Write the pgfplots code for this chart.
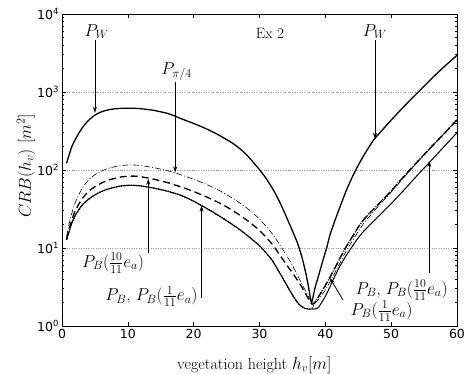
\documentclass[border=0pt]{standalone}
\usepackage{amsmath}
\usepackage{fontspec}
\usepackage{pgfplots}
\usepackage{pgfplotstable}
\pgfplotsset{compat=1.18}
\usetikzlibrary{calc,arrows.meta}
\newfontfamily\tickfont{DejaVu Sans}
\newcommand{\sx}[1]{\raisebox{4.5pt}{\fontsize{8.5}{8.5}\selectfont #1}}
\newcommand{\lbl}{\fontsize{17}{19}\selectfont}

\pgfplotstableread{
x y
0.7 122
1 148
1.5 200
2 245
3 340
4 430
5 505
6 557
7 590
8 608
9 617
10 620
11 618
12 610
14 580
16 532
17.2 490
18 458
20 395
22 335
24 275
26 218
27 188
28 158
29 127
30 101
31 78
32 57.5
33 40
34 26
35 16.6
35.7 12
36.2 9.0
36.6 6.8
37.1 4.5
37.5 3.0
37.9 2.0
38.4 3.0
39 4.5
39.6 6.8
40.2 10
40.7 14.7
41.5 23
42.3 35
43.2 55
44 78
45 115
46 162
47.3 240
48 282
50 436
52 660
54 977
56 1445
58 2090
60 2950
}\PW

\pgfplotstableread{
x y
0.7 12.7
1 15.5
1.5 21
2 26
3 35
4 42
5 48
6 53
7 57
8 60
9 62.5
10 63.5
11 63.5
12 62.5
14 58.5
16 53.5
18 47.5
20 39.8
21.2 35
22 32.1
24 25.4
26 19.7
27 17.2
28 14.8
30 10.7
31.4 7.9
32 6.8
33 4.9
34 3.5
35 2.5
36 1.9
37 1.67
38 1.64
38.5 1.66
39 1.75
40 2.4
41 3.6
42 5.4
43 7.6
44 10.2
45 13.5
46 17
48 25
50 37
52 56
54 86
56 130
58 198
60 300
}\PBone

\pgfplotstableread{
x y
0.7 13
1 16.5
1.5 23
2 30
3 42
4 53
5 61
6 68
7 74
8 78
9 81.5
10 83
11 83.5
12 82
13 79
14 76
16 69
18 61
20 53
22 45
24 37.5
26 30
28 23
30 16.8
32 11
33 8.3
34 6.3
35 4.8
35.4 4.3
36.2 3.4
37 2.6
37.6 2.1
38 1.9
38.4 2.0
39 2.4
40 3.3
41 4.7
42 6.8
43 9.8
44 13.5
45 18.5
46 24
48 36
50 54
52 84
54 128
56 194
58 290
60 440
}\PBten

\pgfplotstableread{
x y
0.7 14
1 19
1.5 28
2 38
3 57
4 74
5 87
6 97
7 105
8 110
9 114
10 116
11 116
12 114
14 107
16 98
17.2 92
18 87
20 76
22 65
24 54
26 43
28 33
30 23.5
32 15
33 11.2
34 8.3
35 6.0
36 4.1
37 2.8
37.8 2.1
38.3 1.95
39 2.2
40 2.9
41 4.1
42 5.9
43 8.6
44 11.9
45 16.3
46 21.5
48 34
50 52
52 81
54 126
56 192
58 290
60 440
}\Ppi

\pgfplotstableread{
x y
0.7 12.7
1 15.5
1.5 21
2 26
3 35
4 42
5 48
6 53
7 57
8 60
9 62.5
10 63.5
11 63.5
12 62.5
14 58.5
16 53.5
18 47.5
20 39.8
21.2 35
22 32.1
24 25.4
26 19.7
27 17.2
28 14.8
30 10.7
31.4 7.9
32 6.8
33 4.9
34 3.5
35 2.5
36 1.9
37 1.67
38 1.7
38.5 2.05
39 2.4
40 3.3
41 4.7
42 6.8
43 9.8
44 13.5
45 18.5
46 24
48 36
50 54
52 84
54 128
56 194
58 290
60 440
}\PB

\begin{document}
\begin{tikzpicture}
\begin{axis}[
  name=ax,
  scale only axis, width=395pt, height=312pt,
  xmin=0, xmax=60, ymin=1, ymax=10000, ymode=log,
  xtick={0,10,20,30,40,50,60},
  xticklabels={0,10,20,30,40,50,60},
  ytick={1,10,100,1000,10000},
  yticklabels={10\sx{0},10\sx{1},10\sx{2},10\sx{3},10\sx{4}},
  ticklabel style={font=\tickfont\fontsize{12.5}{12.5}\selectfont},
  tick align=inside, tick pos=both,
  major tick length=4pt, minor tick length=2pt,
  every tick/.style={black, line width=0.6pt},
  ymajorgrids, grid style={dotted, gray!80, line width=0.6pt},
  axis line style={line width=0.9pt},
  xlabel={vegetation height $h_v[m]$},
  ylabel={$CRB(h_v)\ [m^2]$},
  xlabel style={font=\fontsize{16}{18}\selectfont, at={(axis description cs:0.487,-0.138)}, anchor=base},
  ylabel style={font=\lbl, at={(axis description cs:-0.091,0.513)}, anchor=center},
  clip mode=individual,
]
\addplot[black, smooth, tension=0.4, line width=1.3pt] table[x=x,y=y] {\PW};
\addplot[black, smooth, tension=0.4, line width=0.6pt, dash pattern=on 6pt off 2pt on 1pt off 2pt] table[x=x,y=y] {\Ppi};
\addplot[black, smooth, tension=0.4, line width=1.3pt, dash pattern=on 7pt off 4pt] table[x=x,y=y] {\PBten};
\addplot[black, smooth, tension=0.4, line width=1.0pt] table[x=x,y=y] {\PBone};
\addplot[black, smooth, tension=0.4, line width=1.3pt, dash pattern=on 1pt off 1.5pt] table[x=x,y=y] {\PB};

\node[font=\fontsize{15}{17}\selectfont] at (axis cs:31.6,5700) {Ex 2};
\node[font=\lbl] at (axis cs:5.27,5930) {$P_W$};
\draw[-{Stealth[length=6pt,width=4pt]}, line width=0.8pt] (axis cs:5,4645) -- (axis cs:5,540);
\node[font=\lbl] at (axis cs:17.4,1820) {$P_{\pi/4}$};
\draw[-{Stealth[length=6pt,width=4pt]}, line width=0.8pt] (axis cs:17.2,1343) -- (axis cs:17.2,93);
\node[font=\lbl] at (axis cs:47.55,5930) {$P_W$};
\draw[-{Stealth[length=6pt,width=4pt]}, line width=0.8pt] (axis cs:47.55,4645) -- (axis cs:47.55,250);
\node[font=\lbl] at (axis cs:7.75,6.42) {$P_B(\tfrac{10}{11}e_a)$};
\draw[-{Stealth[length=6pt,width=4pt]}, line width=0.8pt] (axis cs:13.1,8.6) -- (axis cs:13.1,77);
\node[font=\lbl] at (axis cs:13.6,2.38) {$P_B$, $P_B(\tfrac{1}{11}e_a)$};
\draw[-{Stealth[length=6pt,width=4pt]}, line width=0.8pt] (axis cs:21.2,2.29) -- (axis cs:21.2,35);
\node[font=\lbl] at (axis cs:51.6,2.89) {$P_B$, $P_B(\tfrac{10}{11}e_a)$};
\draw[-{Stealth[length=6pt,width=4pt]}, line width=0.8pt] (axis cs:55.8,4.78) -- (axis cs:55.8,130);
\node[font=\lbl] at (axis cs:48.55,1.56) {$P_B(\tfrac{1}{11}e_a)$};
\draw[-{Stealth[length=6pt,width=4pt]}, line width=0.8pt] (axis cs:42.7,2.15) -- (axis cs:40.7,4.1);
\end{axis}
\pgfresetboundingbox
\path[use as bounding box] ($(ax.south west)+(-62pt,-48pt)$) rectangle ($(ax.south west)+(402pt,326pt)$);
\end{tikzpicture}
\end{document}
